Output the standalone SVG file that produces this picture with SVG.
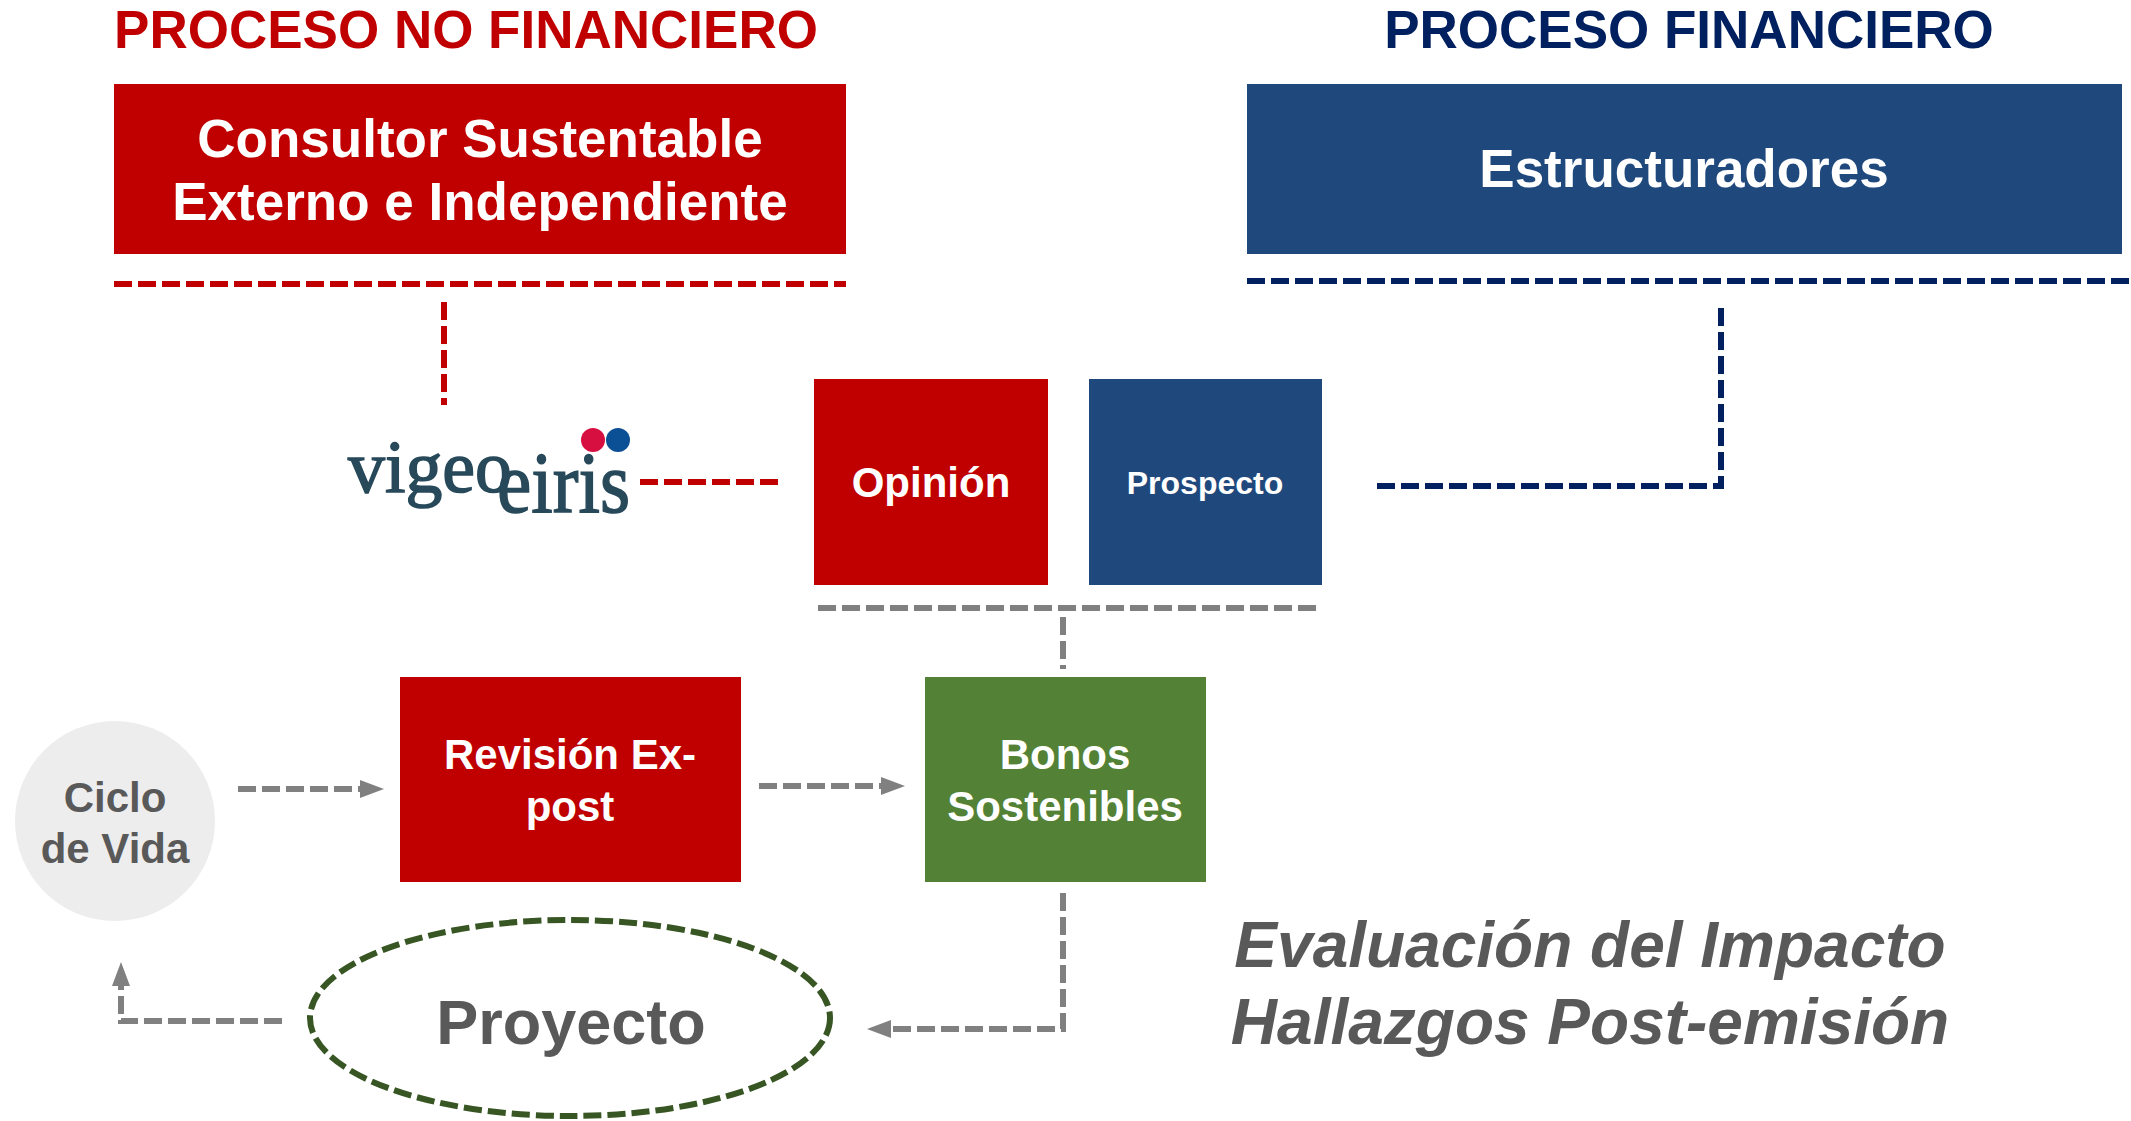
<svg xmlns="http://www.w3.org/2000/svg" width="2131" height="1121" viewBox="0 0 2131 1121">
<style>
text{font-family:"Liberation Sans",Arial,sans-serif;font-weight:bold;}
.w{fill:#FFFFFF;text-anchor:middle;}
.g{fill:#595959;text-anchor:middle;}
.logo{font-family:"Liberation Serif","Times New Roman",serif;font-weight:normal;fill:#27495A;stroke:#27495A;stroke-width:1.5;}
.dash{fill:none;stroke-width:6;stroke-dasharray:18 6;}
.red{stroke:#C00000;}
.navy{stroke:#002060;}
.gray{stroke:#808080;}
</style>
<defs>
<marker id="ah" markerUnits="userSpaceOnUse" markerWidth="24" markerHeight="18" refX="0" refY="9" orient="auto">
<path d="M0,0 L24,9 L0,18 z" fill="#808080"/>
</marker>
</defs>
<rect width="2131" height="1121" fill="#FFFFFF"/>

<g id="title-no-financiero"><text x="466" y="48" font-size="53" fill="#C00000" text-anchor="middle">PROCESO NO FINANCIERO</text></g>
<g id="title-financiero"><text x="1689" y="48" font-size="53" fill="#002060" text-anchor="middle">PROCESO FINANCIERO</text></g>

<g id="consultor">
<rect x="114" y="84" width="732" height="170" fill="#C00000"/>
<text class="w" x="480" y="157" font-size="53">Consultor Sustentable</text>
<text class="w" x="480" y="220" font-size="53">Externo e Independiente</text>
</g>

<g id="estructuradores">
<rect x="1247" y="84" width="875" height="170" fill="#1F497D"/>
<text class="w" x="1684" y="187" font-size="53">Estructuradores</text>
</g>

<g id="vigeoeiris">
<circle cx="593" cy="440" r="12" fill="#D70F41"/>
<circle cx="618" cy="440" r="12" fill="#0B4F94"/>
<text class="logo" x="348" y="492" font-size="74" textLength="164" lengthAdjust="spacingAndGlyphs">vigeo</text>
<text class="logo" x="497" y="512" font-size="86" textLength="133" lengthAdjust="spacingAndGlyphs">eiris</text>
</g>

<g id="opinion">
<rect x="814" y="379" width="234" height="206" fill="#C00000"/>
<text class="w" x="931" y="497" font-size="42">Opinión</text>
</g>

<g id="prospecto">
<rect x="1089" y="379" width="233" height="206" fill="#1F497D"/>
<text class="w" x="1205" y="494" font-size="32">Prospecto</text>
</g>

<g id="revision">
<rect x="400" y="677" width="341" height="205" fill="#C00000"/>
<text class="w" x="570" y="769" font-size="42">Revisión Ex-</text>
<text class="w" x="570" y="821" font-size="42">post</text>
</g>

<g id="bonos">
<rect x="925" y="677" width="281" height="205" fill="#538135"/>
<text class="w" x="1065" y="769" font-size="42">Bonos</text>
<text class="w" x="1065" y="821" font-size="42">Sostenibles</text>
</g>

<g id="ciclo">
<circle cx="115" cy="821" r="100" fill="#EDEDED"/>
<text class="g" x="115" y="812" font-size="42">Ciclo</text>
<text class="g" x="115" y="863" font-size="42">de Vida</text>
</g>

<g id="proyecto">
<ellipse cx="570" cy="1018" rx="260" ry="98" fill="none" stroke="#375623" stroke-width="6" stroke-dasharray="18 6"/>
<text class="g" x="571" y="1044" font-size="63">Proyecto</text>
</g>

<g id="evaluacion">
<text class="g" x="1590" y="967" font-size="64" font-style="italic">Evaluación del Impacto</text>
<text class="g" x="1590" y="1044" font-size="64" font-style="italic">Hallazgos Post-emisión</text>
</g>

<g id="connectors">
<path class="dash red" d="M114,284 H846"/>
<path class="dash red" d="M444,302 V405"/>
<path class="dash red" d="M640,482 H778"/>
<path class="dash navy" d="M1247,281 H2131"/>
<path class="dash navy" d="M1377,486 H1721 V302"/>
<path class="dash gray" d="M818,608 H1322"/>
<path class="dash gray" d="M1063,617 V669"/>
<path class="dash gray" d="M238,789 H360" marker-end="url(#ah)"/>
<path class="dash gray" d="M759,786 H881" marker-end="url(#ah)"/>
<path class="dash gray" d="M1063,893 V1029 H891" marker-end="url(#ah)"/>
<path class="dash gray" d="M282,1021 H121 V986" marker-end="url(#ah)"/>
</g>
</svg>
